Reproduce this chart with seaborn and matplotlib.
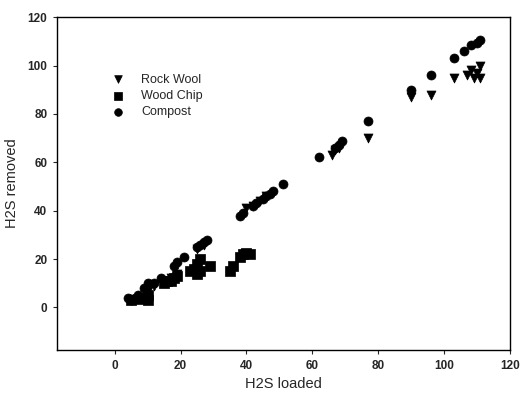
import matplotlib
matplotlib.use("Agg")
import matplotlib.pyplot as plt
import seaborn as sns
import pandas as pd

# H2S loaded / removed for each packing medium
rock_x = [5, 6, 8, 10, 12, 17, 19, 25, 27, 40, 42, 44, 46, 66, 67, 68, 77, 90, 96, 103, 107, 108, 110, 111, 111, 109]
rock_y = [3, 3.5, 4, 7, 9, 12, 14, 24, 26, 41, 42, 44, 46, 63, 65, 66, 70, 87, 88, 95, 96, 98, 97, 100, 95, 95]

wood_x = [5, 7, 9, 10, 10, 15, 16, 17, 18, 19, 23, 24, 25, 25, 26, 26, 29, 35, 36, 38, 39, 40, 41]
wood_y = [3, 3.5, 4, 3, 5, 10, 11, 11, 12, 13, 15, 16, 14, 18, 20, 15, 17, 15, 17, 21, 22, 22.5, 22]

comp_x = [4, 5, 7, 9, 10, 12, 14, 18, 19, 21, 25, 26, 27, 28, 38, 39, 42, 43, 45, 46, 47, 48, 51,
          62, 67, 68, 69, 77, 90, 96, 103, 106, 108, 110, 111]
comp_y = [4, 3, 5, 8, 10, 10, 12, 17, 19, 21, 25, 26, 27, 28, 38, 39, 42, 43, 45, 46, 47, 48, 51,
          62, 66, 67, 69, 77, 90, 96, 103, 106, 108.5, 109.5, 110.5]

x_ticks = [0, 20, 40, 60, 80, 100, 120]
y_ticks = [0, 20, 40, 60, 80, 100, 120]

sns.set_style("ticks")
plt.rcParams['font.family'] = ['Liberation Sans', 'DejaVu Sans']

fig = plt.figure(figsize=(5.28, 3.98), dpi=100)
ax = fig.add_axes([0.108, 0.121, 0.858, 0.836])

series = [("Rock Wool", rock_x, rock_y, "v"),
          ("Wood Chip", wood_x, wood_y, "s"),
          ("Compost", comp_x, comp_y, "o")]
for name, xs, ys, m in series:
    df = pd.DataFrame({"H2S loaded": xs, "H2S removed": ys})
    sns.scatterplot(data=df, x="H2S loaded", y="H2S removed", marker=m, s=42,
                    color="black", edgecolor="black", linewidth=0.5, label=name, ax=ax)

ax.set_xlim(-17.5, 120)
ax.set_ylim(-17.5, 120)
ax.set_xticks(x_ticks)
ax.set_yticks(y_ticks)
ax.tick_params(axis="both", direction="out", length=3, width=0.8, labelsize=8.5, pad=4)
for lab in ax.get_xticklabels() + ax.get_yticklabels():
    lab.set_fontweight("bold")
ax.set_xlabel("H2S loaded", fontsize=10.5, labelpad=4)
ax.set_ylabel("H2S removed", fontsize=10.5, labelpad=6)
for sp in ax.spines.values():
    sp.set_visible(True)
    sp.set_linewidth(1.0)
    sp.set_color("black")

ax.legend(loc="upper left", bbox_to_anchor=(0.095, 0.845), frameon=False, fontsize=9,
          handletextpad=0.9, labelspacing=0.35, borderaxespad=0, markerscale=0.85)

fig.savefig("out.png", dpi=100)
